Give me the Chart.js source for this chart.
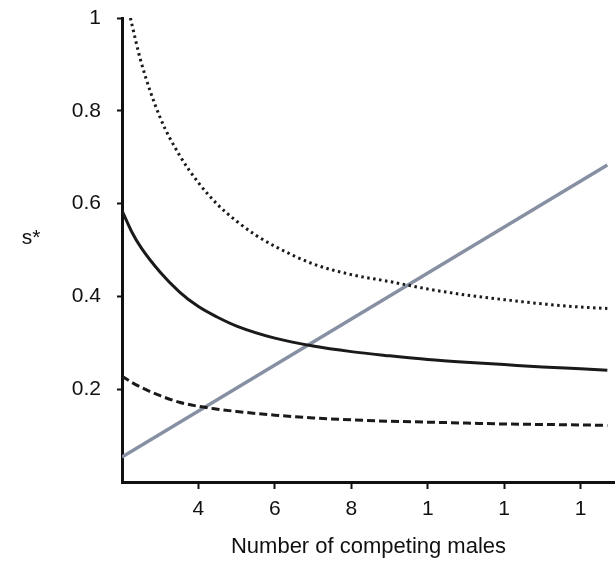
<!DOCTYPE html>
<html>
<head>
<meta charset="utf-8">
<script src="https://cdn.jsdelivr.net/npm/chart.js@4.4.1/dist/chart.umd.min.js"></script>
<style>
  html, body { margin: 0; padding: 0; background: #fff; }
  #wrap { width: 615px; height: 563px; }
</style>
</head>
<body>
<div id="wrap"><canvas id="grafica"></canvas></div>
<script>
// curve values
const dottedX = [2.22, 2.5, 3, 3.5, 4, 4.5, 5, 5.5, 6, 7, 8, 9, 10, 11, 12, 13, 14, 14.7];
const dottedY = [1.0, 0.905, 0.785, 0.705, 0.645, 0.598, 0.562, 0.532, 0.508, 0.470, 0.447, 0.432, 0.416, 0.403, 0.393, 0.384, 0.377, 0.374];

const solidX = [2, 2.25, 2.5, 3, 3.5, 4, 4.5, 5, 6, 7, 8, 9, 10, 11, 12, 13, 14, 14.7];
const solidY = [0.585, 0.54, 0.505, 0.452, 0.41, 0.378, 0.355, 0.336, 0.31, 0.293, 0.281, 0.272, 0.264, 0.258, 0.253, 0.248, 0.244, 0.241];

const dashX = [2, 2.25, 2.5, 3, 3.5, 4, 4.5, 5, 6, 7, 8, 9, 10, 11, 12, 13, 14, 14.7];
const dashY = [0.228, 0.215, 0.204, 0.186, 0.172, 0.163, 0.157, 0.152, 0.144, 0.138, 0.134, 0.131, 0.129, 0.127, 0.125, 0.124, 0.123, 0.122];

const grayX = [2, 14.7];
const grayY = [0.054, 0.683];

const xTickValues = [4, 6, 8, 10, 12, 14];
const xTickLabels = ['4', '6', '8', '1', '1', '1'];
const yTickValues = [0.2, 0.4, 0.6, 0.8, 1];
const yTickLabels = ['0.2', '0.4', '0.6', '0.8', '1'];

const toPoints = (xs, ys) => xs.map((x, i) => ({ x: x, y: ys[i] }));

const fuente = "'Liberation Sans', Arial, sans-serif";

// "s*" sits horizontally left of the axis
const yTitle = {
    id: 'yTitle',
    afterDraw(chart) {
        const ctx = chart.ctx;
        ctx.save();
        ctx.font = "21px " + fuente;
        ctx.fillStyle = '#111';
        ctx.textAlign = 'center';
        ctx.textBaseline = 'middle';
        ctx.fillText('s*', 31, 238);
        ctx.restore();
    }
};

const comun = { pointRadius: 0, fill: false, cubicInterpolationMode: 'monotone' };

const data = {
    datasets: [
        Object.assign({ data: toPoints(dottedX, dottedY), borderColor: '#1a1a1a', borderWidth: 3, borderDash: [2.5, 3.5] }, comun),
        Object.assign({ data: toPoints(solidX, solidY), borderColor: '#1a1a1a', borderWidth: 3 }, comun),
        Object.assign({ data: toPoints(dashX, dashY), borderColor: '#1a1a1a', borderWidth: 3, borderDash: [8, 4] }, comun),
        Object.assign({ data: toPoints(grayX, grayY), borderColor: '#8790a3', borderWidth: 3.5 }, comun)
    ]
};

const config = {
    type: 'line',
    data: data,
    plugins: [yTitle],
    options: {
        responsive: true,
        maintainAspectRatio: false,
        animation: false,
        plugins: {
            legend: { display: false },
            tooltip: { enabled: false }
        },
        layout: {
            padding: { top: 18, right: 0, left: 0, bottom: 0 }
        },
        scales: {
            x: {
                type: 'linear',
                min: 2,
                max: 14.9,
                afterFit: s => { s.height = 81; },
                afterBuildTicks: s => { s.ticks = xTickValues.map(v => ({ value: v })); },
                ticks: {
                    autoSkip: false,
                    maxRotation: 0,
                    padding: 8,
                    color: '#111',
                    font: { family: fuente, size: 21 },
                    callback: (v, i) => xTickLabels[i]
                },
                grid: {
                    drawOnChartArea: false,
                    drawTicks: true,
                    tickLength: 7,
                    tickWidth: 2,
                    tickColor: '#111'
                },
                border: { display: true, color: '#111', width: 3 },
                title: {
                    display: true,
                    text: 'Number of competing males',
                    color: '#111',
                    font: { family: fuente, size: 22 },
                    padding: { top: 0, bottom: 3 }
                }
            },
            y: {
                min: 0,
                max: 1,
                afterFit: s => { s.width = 122; s.paddingTop = 0; s.paddingBottom = 0; },
                afterBuildTicks: s => { s.ticks = yTickValues.map(v => ({ value: v })); },
                ticks: {
                    padding: 16,
                    color: '#111',
                    font: { family: fuente, size: 21 },
                    callback: (v, i) => yTickLabels[i]
                },
                grid: {
                    drawOnChartArea: false,
                    drawTicks: true,
                    tickLength: 5,
                    tickWidth: 2,
                    tickColor: '#111'
                },
                border: { display: true, color: '#111', width: 3 }
            }
        }
    }
};

new Chart(document.getElementById('grafica'), config);
</script>
</body>
</html>
